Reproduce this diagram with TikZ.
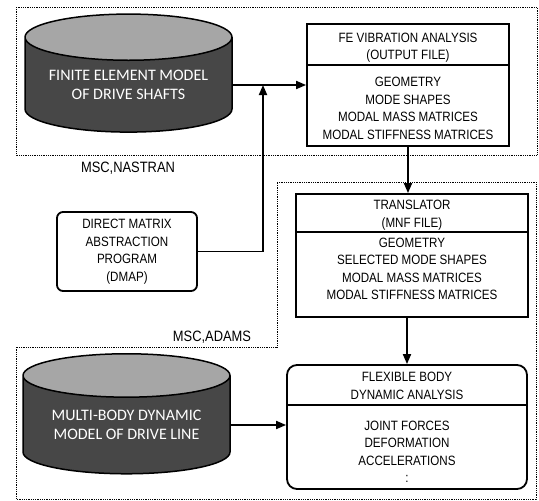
\documentclass[tikz,border=0pt]{standalone}
\usepackage{fontspec}
\newfontfamily\boxfont[FakeStretch=0.86]{Liberation Sans}
\newfontfamily\cylfont{Carlito}
\usetikzlibrary{shapes.geometric,arrows.meta}

\begin{document}
\begin{tikzpicture}[x=1pt,y=1pt]

        \tikzstyle{every node}=[align=center,inner sep=0pt,font=\boxfont\fontsize{13.5}{17.5}\selectfont]
        \tikzstyle{region}=[draw,densely dotted,line width=0.8pt]
        \tikzstyle{tag}=[font=\boxfont\fontsize{15}{18}\selectfont]
        \tikzstyle{box}=[draw,line width=1.8pt,rectangle]
        \tikzstyle{drum}=[draw,line width=1.5pt,cylinder,shape border rotate=90,aspect=0.29,
            cylinder uses custom fill,cylinder body fill=black!72,cylinder end fill=black!35,
            text=white,font=\cylfont\fontsize{16}{19}\selectfont]
        \tikzstyle{arr}=[line width=1.8pt,-{Triangle[length=10pt,width=8pt]}]

        \useasboundingbox (0,0) rectangle (539,-501);

        % program regions
        \draw[region] (16,-7) rectangle (537,-155);
        \draw[region] (277,-182) -- (536,-182) -- (536,-499) -- (16,-499) -- (16,-347) -- (277,-347) -- cycle;
        \node[tag] (nastran) at (128,-168) {MSC,NASTRAN};
        \node[tag] (adams) at (212,-337) {MSC,ADAMS};

        % models
        \node[drum,minimum width=207,minimum height=118] (fem) at (128.5,-85) {FINITE ELEMENT MODEL\\OF DRIVE SHAFTS};
        \node[drum,minimum width=207,minimum height=120] (mbd) at (126.5,-425) {MULTI-BODY DYNAMIC\\MODEL OF DRIVE LINE};

        % split boxes
        \node[box,minimum width=202,minimum height=122] (fe) at (408,-85) {};
        \node[box,minimum width=232,minimum height=123] (tr) at (412,-255.5) {};
        \node[box,rounded corners=10pt,minimum width=240,minimum height=124] (flex) at (407,-427) {};
        \foreach \b/\d in {fe/42,tr/39,flex/41} {
            \draw[line width=1.8pt] ([yshift=-\d pt]\b.north west) -- ([yshift=-\d pt]\b.north east);
        }

        \node (fe_t) at (408,-47.5) {FE VIBRATION ANALYSIS\\(OUTPUT FILE)};
        \node (fe_l) at (408,-108.5) {GEOMETRY\\MODE SHAPES\\MODAL MASS MATRICES\\MODAL STIFFNESS MATRICES};
        \node (tr_t) at (412,-215) {TRANSLATOR\\(MNF FILE)};
        \node (tr_l) at (412,-269) {GEOMETRY\\SELECTED MODE SHAPES\\MODAL MASS MATRICES\\MODAL STIFFNESS MATRICES};
        \node (flex_t) at (407,-386) {FLEXIBLE BODY\\DYNAMIC ANALYSIS};
        \node (flex_l) at (407,-452) {JOINT FORCES\\DEFORMATION\\ACCELERATIONS\\:};

        \node[box,rounded corners=6pt,minimum width=140,minimum height=79] (dmap) at (127,-251.5)
            {DIRECT MATRIX\\ABSTRACTION\\PROGRAM\\(DMAP)};

        % flow
        \coordinate (tee) at (263,-85);
        \draw[arr] (fem.east) -- (fem.east -| fe.west);
        \draw[arr] (dmap.east) -| (tee);
        \draw[arr] (fe.south) -- (fe.south |- tr.north);
        \draw[arr] (tr.south -| flex.north) -- (flex.north);
        \draw[arr] (mbd.east) -- (mbd.east -| flex.west);

    \end{tikzpicture}
\end{document}
